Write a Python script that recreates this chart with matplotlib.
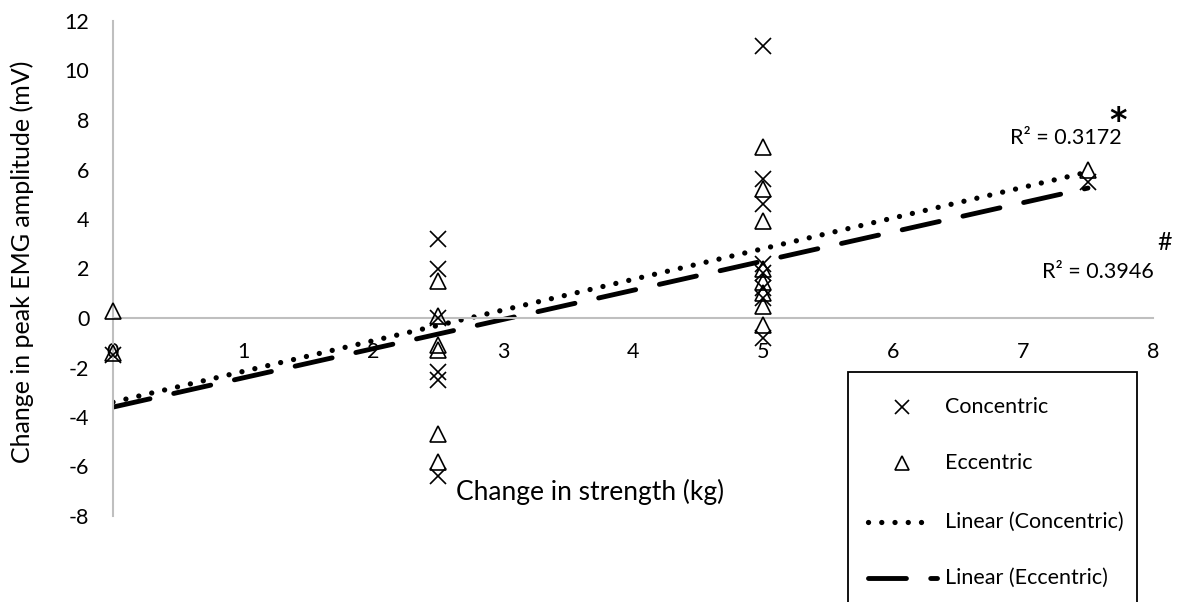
import numpy as np
import matplotlib
matplotlib.use("Agg")
import matplotlib.pyplot as plt
from matplotlib.lines import Line2D
from matplotlib.patches import Rectangle

plt.rcParams['font.family'] = ['Lato', 'DejaVu Sans']
plt.rcParams['axes.unicode_minus'] = False

# data
conc_x = [0, 2.5, 2.5, 2.5, 2.5, 2.5, 2.5,
          5, 5, 5, 5, 5, 5, 5, 5, 7.5]
conc_y = [-1.5, 3.2, 2.0, 0.0, -2.2, -2.5, -6.4,
          11.0, 5.6, 4.6, 2.2, 1.8, 1.2, 0.8, -0.8, 5.5]
ecc_x = [0, 0, 2.5, 2.5, 2.5, 2.5, 2.5, 2.5,
         5, 5, 5, 5, 5, 5, 5, 5, 7.5]
ecc_y = [0.3, -1.4, 1.5, 0.1, -1.1, -1.3, -4.7, -5.8,
         6.9, 5.2, 3.9, 2.0, 1.45, 1.0, 0.5, -0.3, 6.0]

# trendline coefficients (intercept, slope) and range
conc_fit = (-3.4, 1.24)
ecc_fit = (-3.6, 1.18)
fit_range = [0, 7.5]
r2_labels = ["R\u00b2 = 0.3172", "R\u00b2 = 0.3946"]

xticks = [0, 1, 2, 3, 4, 5, 6, 7, 8]
yticks = [-8, -6, -4, -2, 0, 2, 4, 6, 8, 10, 12]
legend_labels = ['Concentric', 'Eccentric', 'Linear (Concentric)', 'Linear (Eccentric)']

W, H = 1180, 602
def fx(px):
    return px / W
def fy(py):
    return 1 - py / H

dot_style = dict(color='black', lw=3.8, linestyle=(0, (0.01, 2.5)), dash_capstyle='round')
dash_style = dict(color='black', lw=3.5, linestyle=(0, (7.8, 5.0)), dash_capstyle='round')
cross_style = dict(linestyle='none', marker='x', ms=12, mew=1.2, color='black')
tri_style = dict(linestyle='none', marker='^', ms=12, mew=1.2, mfc='none', mec='black')

fig = plt.figure(figsize=(11.8, 6.02), dpi=100)
ax = fig.add_axes([fx(113), fy(516), fx(1153) - fx(113), fy(21) - fy(516)])
ax.set_xlim(0, 8)
ax.set_ylim(-8, 12)

grey = '#BFBFBF'
ax.spines['left'].set_position(('data', 0))
ax.spines['bottom'].set_position(('data', 0))
for s in ['left', 'bottom']:
    ax.spines[s].set_color(grey)
    ax.spines[s].set_linewidth(1.5)
for s in ['top', 'right']:
    ax.spines[s].set_visible(False)
ax.set_xticks(xticks)
ax.set_yticks(yticks)
ax.tick_params(axis='x', length=0, pad=17, labelsize=15.5)
ax.tick_params(axis='y', length=0, pad=17, labelsize=15.5)

xs = np.array(fit_range)
ax.plot(xs, conc_fit[0] + conc_fit[1] * xs, zorder=2, **dot_style)
ax.plot(xs, ecc_fit[0] + ecc_fit[1] * xs, zorder=2, **dash_style)

ax.plot(conc_x, conc_y, zorder=3, clip_on=False, **cross_style)
ax.plot(ecc_x, ecc_y, zorder=3, clip_on=False, **tri_style)

fig.text(fx(1066), fy(138), r2_labels[0], fontsize=15.5, ha='center', va='center')
fig.text(fx(1118), fy(121), '*', fontsize=24, ha='center', va='center',
         weight='bold', family='DejaVu Sans')
fig.text(fx(1165), fy(243), '#', fontsize=18, ha='center', va='center')
fig.text(fx(1098), fy(272), r2_labels[1], fontsize=15.5, ha='center', va='center')

fig.text(fx(590), fy(492), 'Change in strength (kg)', fontsize=19, ha='center', va='center')
fig.text(fx(22), fy(262), 'Change in peak EMG amplitude (mV)', fontsize=18,
         ha='center', va='center', rotation=90)

# legend box drawn by hand, it runs past the bottom edge like the original
fig.patches.append(Rectangle((fx(848), fy(640)), fx(1137) - fx(848), fy(372) - fy(640),
                             transform=fig.transFigure, fill=False, ec='black', lw=1.3))
rows_y = [407, 463, 522, 578]
handles = [cross_style, tri_style, dot_style, dash_style]
for i, (lab, st) in enumerate(zip(legend_labels, handles)):
    y = fy(rows_y[i])
    if i < 2:
        fig.add_artist(Line2D([fx(902)], [y], transform=fig.transFigure,
                              **dict(st, ms=10)))
    else:
        fig.add_artist(Line2D([fx(868), fx(937 if i == 3 else 931)], [y, y],
                              transform=fig.transFigure, **st))
    fig.text(fx(945), y, lab, fontsize=15.5, ha='left', va='center')

fig.savefig('out.png', dpi=100)
